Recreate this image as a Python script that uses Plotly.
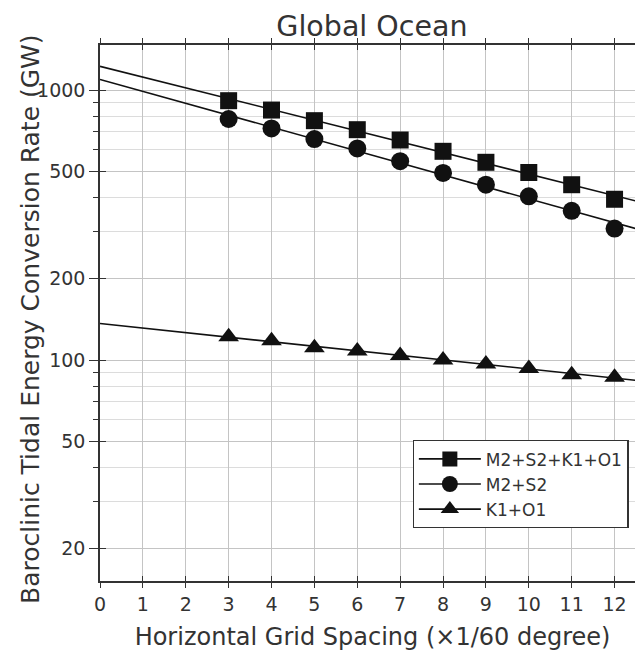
import numpy as np
import plotly.graph_objects as go

# ---- data ----
grid_spacing = [3, 4, 5, 6, 7, 8, 9, 10, 11, 12]
all_four = [913, 843, 770, 713, 653, 593, 540, 495, 446, 394]      # M2+S2+K1+O1
semidiurnal = [781, 721, 658, 608, 545, 493, 446, 404, 357, 307]   # M2+S2
diurnal = [122, 118, 111, 108, 104, 100, 96.6, 93.1, 88.3, 86.3]   # K1+O1
series_names = ["M2+S2+K1+O1", "M2+S2", "K1+O1"]
series_symbols = ["square", "circle", "triangle-up"]
fit_extent = [0, 13.5]

y_label_vals = [20, 50, 100, 200, 500, 1000]
y_minor_vals = [20, 30, 40, 60, 70, 80, 90, 300, 400, 600, 700, 800, 900]

FONT = "DejaVu Sans, sans-serif"
TXT = "#333333"
AX = "#333333"

fig = go.Figure()
xs = np.array(grid_spacing, dtype=float)
xfit = np.linspace(fit_extent[0], fit_extent[1], 50)
for name, sym, vals in zip(series_names, series_symbols,
                           [all_four, semidiurnal, diurnal]):
    coef = np.polyfit(xs, np.log10(vals), 1)
    yfit = 10 ** np.polyval(coef, xfit)
    msize = {"square": 17, "circle": 18, "triangle-up": 18}[sym]
    fig.add_trace(go.Scatter(x=xfit, y=yfit, mode="lines",
                             line=dict(color="#111111", width=1.6),
                             showlegend=False, hoverinfo="skip"))
    fig.add_trace(go.Scatter(x=grid_spacing, y=vals, mode="markers",
                             marker=dict(symbol=sym, color="#111111", size=msize),
                             showlegend=False))
    fig.add_trace(go.Scatter(x=[None], y=[None], mode="lines+markers", name=name,
                             line=dict(color="#111111", width=1.6),
                             marker=dict(symbol=sym, color="#111111", size=msize - 2)))

# dummy traces for the extra tick axes
fig.add_trace(go.Scatter(x=[None], y=[None], xaxis="x2", showlegend=False))
fig.add_trace(go.Scatter(x=[None], y=[None], yaxis="y2", showlegend=False))

XMAX = 12.71
YRANGE = [np.log10(15.2), np.log10(1468)]
grid_c = "#c4c4c4"
fig.update_layout(
    width=643, height=656,
    margin=dict(l=92, r=6, t=37, b=83),
    paper_bgcolor="white", plot_bgcolor="white",
    font=dict(family=FONT, color=TXT, size=18),
    title=dict(text="Global Ocean", x=0.566, xanchor="center", y=0.988,
               yanchor="top", font=dict(size=28.5, color=TXT)),
    xaxis=dict(range=[0, XMAX], dtick=1, tick0=0, showgrid=True,
               gridcolor=grid_c, gridwidth=1, zeroline=False,
               showline=True, linecolor=AX, linewidth=1.5, mirror="ticks",
               ticks="outside", ticklen=5, tickcolor=AX, tickwidth=1.3,
               tickfont=dict(size=19),
               title=dict(text="Horizontal Grid Spacing (×1/60 degree)",
                          font=dict(size=24), standoff=15)),
    xaxis2=dict(range=[0, XMAX], dtick=1, tick0=0, overlaying="x", side="top",
                showgrid=False, zeroline=False, showline=False, mirror="ticks",
                ticks="inside", ticklen=5, tickcolor=AX, tickwidth=1.3,
                showticklabels=False),
    yaxis=dict(type="log", range=YRANGE,
               tickmode="array", tickvals=y_label_vals,
               ticktext=[str(v) for v in y_label_vals],
               showgrid=True, gridcolor=grid_c, gridwidth=1, zeroline=False,
               showline=True, linecolor=AX, linewidth=1.5,
               ticks="outside", ticklen=9, tickcolor=AX, tickwidth=1.3,
               tickfont=dict(size=19),
               minor=dict(tickmode="array", tickvals=y_minor_vals,
                          ticks="outside", ticklen=5, tickcolor=AX,
                          showgrid=True, gridcolor="#dcdcdc", gridwidth=1)),
    yaxis2=dict(type="log", range=YRANGE, overlaying="y", side="left",
                tickmode="array", tickvals=y_label_vals, showticklabels=False,
                showgrid=False, zeroline=False, showline=False, mirror="ticks",
                ticks="inside", ticklen=6, tickcolor=AX, tickwidth=1.3),
    legend=dict(x=0.5735, y=0.263, xanchor="left", yanchor="top",
                bgcolor="white", bordercolor=AX, borderwidth=1.3,
                font=dict(size=17, color=TXT), tracegroupgap=0,
                itemwidth=62),
    annotations=[dict(text="Baroclinic Tidal Energy Conversion Rate (GW)",
                      xref="paper", yref="paper", x=0, y=0.5,
                      xanchor="center", yanchor="middle", xshift=-70, yshift=-6,
                      textangle=-90, showarrow=False,
                      font=dict(size=25, color=TXT))],
)

fig.write_html("out.html")
